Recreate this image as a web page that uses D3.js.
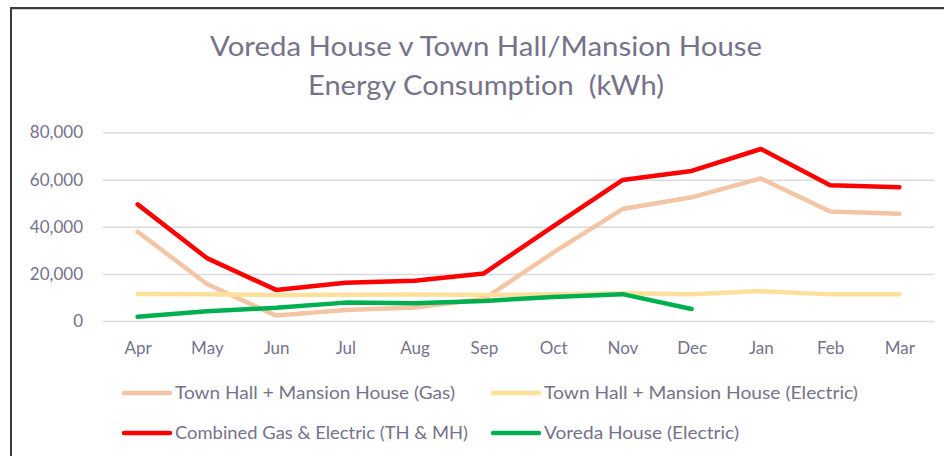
<!DOCTYPE html>
<html>
<head>
<meta charset="utf-8">
<script src="https://cdn.jsdelivr.net/npm/d3@7"></script>
<style>
  body { margin: 0; background: #fff; }
  svg { display: block; }
  text { font-variant-ligatures: none; white-space: pre; }
</style>
</head>
<body>
<div id="chart"></div>
<script>
// Energy consumption chart (kWh)

const months = ["Apr", "May", "Jun", "Jul", "Aug", "Sep", "Oct", "Nov", "Dec", "Jan", "Feb", "Mar"];
const gas = [37900, 15700, 2300, 4700, 5700, 9300, 29000, 47500, 52500, 60500, 46500, 45500];
const electric = [11500, 11400, 11000, 11100, 11200, 11000, 11300, 11800, 11400, 12700, 11300, 11300];
const combined = [49500, 26700, 13200, 16200, 17100, 20200, 40200, 59800, 63700, 73000, 57600, 56800];
const voreda = [1800, 4100, 5600, 7800, 7500, 8500, 10200, 11400, 5100, null, null, null];
const yTicks = [0, 20000, 40000, 60000, 80000];

const titleLines = ["Voreda House v Town Hall/Mansion House", "Energy Consumption  (kWh)"];

// Series in drawing order
const series = [
    { name: "Town Hall + Mansion House (Gas)", values: gas, color: "#F4C5A4" },
    { name: "Town Hall + Mansion House (Electric)", values: electric, color: "#FCE09C" },
    { name: "Combined Gas & Electric (TH & MH)", values: combined, color: "#FF0000" },
    { name: "Voreda House (Electric)", values: voreda, color: "#00B050" }
];

let w = 944, h = 456;
let textColor = "#76728A";
let font = "Lato, 'Open Sans', sans-serif";

let svg = d3.select("#chart")
    .append("svg")
    .attr("width", w)
    .attr("height", h);

// Frame (top and left edge are visible)
svg.append("line")
    .attr("x1", 10).attr("x2", w).attr("y1", 8).attr("y2", 8)
    .attr("stroke", "#3b3b3f").attr("stroke-width", 2);
svg.append("line")
    .attr("x1", 11).attr("x2", 11).attr("y1", 7).attr("y2", h)
    .attr("stroke", "#3b3b3f").attr("stroke-width", 2);
svg.append("line")
    .attr("x1", 12).attr("x2", w).attr("y1", 9.5).attr("y2", 9.5)
    .attr("stroke", "#d0d0d6").attr("stroke-width", 1);

// Scales
let x = d3.scalePoint()
    .domain(months)
    .range([103, 934])
    .padding(0.5);

let y = d3.scaleLinear()
    .domain([0, 80000])
    .range([321, 132.5]);

// Title
let titleWidths = [552, 356];
let titleY = [56, 95];
titleLines.forEach(function (t, i) {
    svg.append("text")
        .attr("x", 486)
        .attr("y", titleY[i])
        .attr("text-anchor", "middle")
        .attr("font-family", font)
        .attr("font-size", 26)
        .attr("fill", textColor)
        .attr("textLength", titleWidths[i])
        .attr("lengthAdjust", "spacingAndGlyphs")
        .text(t);
});

// Grid lines + y axis labels
let yAxis = svg.append("g")
    .attr("transform", "translate(103,0)")
    .call(d3.axisLeft(y)
        .tickValues(yTicks)
        .tickSize(-831)
        .tickPadding(20)
        .tickFormat(d3.format(",")));

yAxis.select(".domain").remove();
yAxis.selectAll(".tick line")
    .attr("stroke", "#dadae2")
    .attr("stroke-width", 1.5);
yAxis.selectAll(".tick text")
    .attr("font-family", font)
    .attr("font-size", 17)
    .attr("fill", textColor);

// x axis labels
let xAxis = svg.append("g")
    .attr("transform", "translate(0,321)")
    .call(d3.axisBottom(x).tickSize(0).tickPadding(21));

xAxis.select(".domain").remove();
xAxis.selectAll(".tick text")
    .attr("font-family", font)
    .attr("font-size", 17)
    .attr("fill", textColor);

// Lines
let line = d3.line()
    .defined(function (d) { return d != null; })
    .x(function (d, i) { return x(months[i]); })
    .y(function (d) { return y(d); });

series.forEach(function (s) {
    svg.append("path")
        .datum(s.values)
        .attr("fill", "none")
        .attr("stroke", s.color)
        .attr("stroke-width", 4.5)
        .attr("stroke-linejoin", "round")
        .attr("stroke-linecap", "round")
        .attr("d", line);
});

// Legend
let legendX = [124, 493];
let legendY = [393, 433];
let legendWidths = [280, 314, 293, 195];

series.forEach(function (s, i) {
    let col = i % 2, row = Math.floor(i / 2);
    let g = svg.append("g")
        .attr("transform", "translate(" + legendX[col] + "," + legendY[row] + ")");
    g.append("line")
        .attr("x1", 0).attr("x2", 46)
        .attr("y1", 0).attr("y2", 0)
        .attr("stroke", s.color)
        .attr("stroke-width", 4.5)
        .attr("stroke-linecap", "round");
    g.append("text")
        .attr("x", 51)
        .attr("y", 6)
        .attr("font-family", font)
        .attr("font-size", 17)
        .attr("fill", textColor)
        .attr("textLength", legendWidths[i])
        .attr("lengthAdjust", "spacingAndGlyphs")
        .text(s.name);
});
</script>
</body>
</html>
